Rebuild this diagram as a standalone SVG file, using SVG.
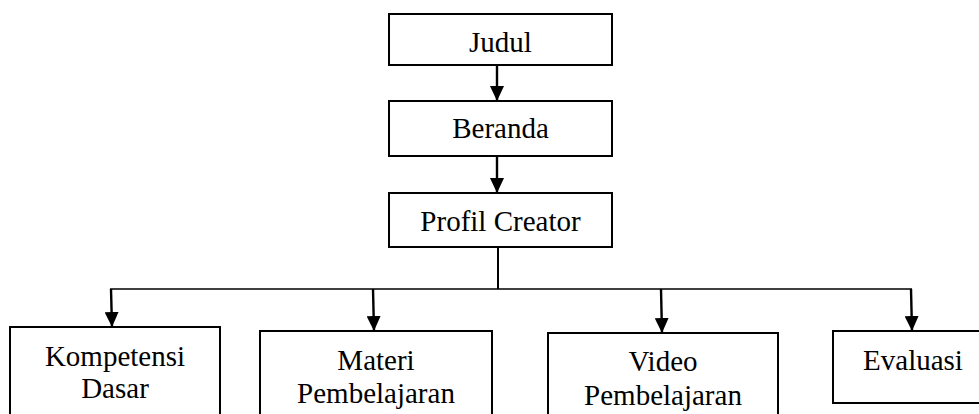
<svg xmlns="http://www.w3.org/2000/svg" width="979" height="414" viewBox="0 0 979 414">
<style>
.box{fill:#fff;stroke:#000;stroke-width:2}
.lbl{font-family:"Liberation Serif","Times New Roman",serif;font-size:29px;fill:#000;text-anchor:middle}
.ln{fill:none;stroke:#000;stroke-width:2.4}
</style>
<defs>
<marker id="arr" markerWidth="15" markerHeight="14" refX="15" refY="7" orient="auto" markerUnits="userSpaceOnUse" viewBox="0 0 15 14">
<path d="M0,0 L15,7 L0,14 Z" fill="#000"/>
</marker>
</defs>
<rect width="979" height="414" fill="#fff"/>
<g id="connectors">
<line class="ln" x1="497" y1="65" x2="497" y2="101" marker-end="url(#arr)"/>
<line class="ln" x1="497" y1="156" x2="497" y2="193" marker-end="url(#arr)"/>
<line class="ln" x1="498" y1="247" x2="498" y2="289" style="stroke-width:2"/>
<line class="ln" x1="110" y1="289" x2="912" y2="289" style="stroke-width:1.6"/>
<line class="ln" x1="111" y1="289" x2="112" y2="327" marker-end="url(#arr)"/>
<line class="ln" x1="373" y1="289" x2="374" y2="331" marker-end="url(#arr)"/>
<line class="ln" x1="661" y1="289" x2="662" y2="333" marker-end="url(#arr)"/>
<line class="ln" x1="911" y1="289" x2="912" y2="331" marker-end="url(#arr)"/>
</g>
<g id="judul">
<rect class="box" x="389" y="14" width="223" height="51"/>
<text class="lbl" x="500.5" y="52">Judul</text>
</g>
<g id="beranda">
<rect class="box" x="389" y="101" width="223" height="55"/>
<text class="lbl" x="500.5" y="138">Beranda</text>
</g>
<g id="profil">
<rect class="box" x="389" y="193" width="223" height="54"/>
<text class="lbl" x="500.5" y="231">Profil Creator</text>
</g>
<g id="kompetensi">
<rect class="box" x="10" y="327" width="210" height="100"/>
<text class="lbl" x="115" y="366">Kompetensi</text>
<text class="lbl" x="115" y="398">Dasar</text>
</g>
<g id="materi">
<rect class="box" x="260" y="331" width="232" height="100"/>
<text class="lbl" x="376" y="370">Materi</text>
<text class="lbl" x="376" y="403">Pembelajaran</text>
</g>
<g id="video">
<rect class="box" x="548" y="333" width="230" height="100"/>
<text class="lbl" x="663" y="371">Video</text>
<text class="lbl" x="663" y="405">Pembelajaran</text>
</g>
<g id="evaluasi">
<rect class="box" x="833" y="331" width="170" height="72"/>
<text class="lbl" x="913" y="370">Evaluasi</text>
</g>
</svg>
